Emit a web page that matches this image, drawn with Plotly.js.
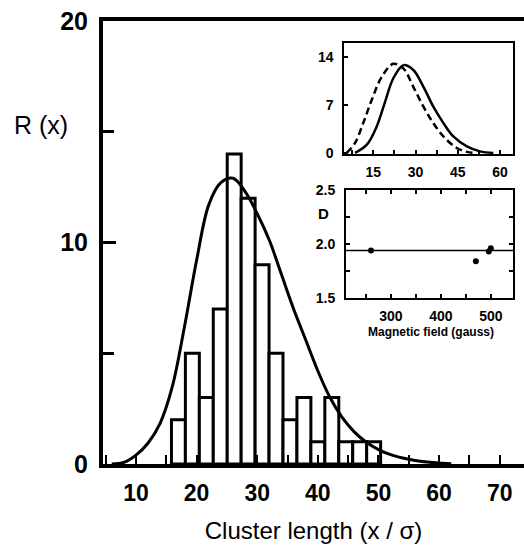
<!DOCTYPE html>
<html>
<head>
<meta charset="utf-8">
<script src="https://cdn.plot.ly/plotly-3.0.1.min.js"></script>
<style>html,body{margin:0;padding:0;background:#fff;}</style>
</head>
<body>
<div id="chart" style="width:524px;height:550px;"></div>
<script>
// Histogram of cluster lengths
const binCenters = [17.0, 19.3, 21.6, 23.9, 26.2, 28.5, 30.8, 33.1, 35.4, 37.7, 40.0, 42.3, 44.6, 46.9, 49.2];
const binCounts  = [2, 5, 3, 7, 14, 12, 9, 5, 2, 3, 1, 3, 1, 1, 1];
const binWidth = 2.3;

// Fitted distribution R(x)
const fitX = [6, 8, 10, 12, 14, 16, 18, 20, 22, 24, 26, 28, 30, 32, 34, 36, 38, 40, 42, 44, 46, 48, 50, 52, 54, 56, 58, 60, 62];
const fitY = [0, 0.07, 0.4, 0.95, 1.85, 3.5, 6.2, 9.2, 11.7, 12.7, 12.9, 12.3, 11.3, 10.1, 8.55, 7.0, 5.6, 4.2, 3.0, 2.1, 1.45, 0.98, 0.65, 0.42, 0.27, 0.16, 0.09, 0.04, 0.01];

// Inset 1: two distributions
const inSolidX = [8.5, 12.7, 16.2, 19.2, 22.1, 25.7, 29.2, 32.8, 36.3, 39.9, 43.4, 48.2, 52.9, 57.6];
const inSolidY = [0, 1.2, 3.86, 7.5, 10.9, 12.8, 12.1, 9.65, 6.75, 4.35, 2.4, 0.96, 0.23, 0];
const inDashX = [5.55, 8.5, 11.4, 14.4, 18.0, 22.1, 25.7, 29.2, 32.8, 36.3, 39.9, 44.6, 48.2, 50.5];
const inDashY = [0, 1.45, 4.35, 7.7, 11.1, 13.0, 12.3, 9.65, 6.75, 4.35, 2.4, 0.72, 0.15, 0];

// Inset 2: D vs magnetic field
const fieldX = [260, 470, 496, 500];
const dY = [1.94, 1.84, 1.93, 1.96];
const dMean = 1.94;
const fieldSpan = [210, 545];

const bold = {family: 'Liberation Sans, Arial, sans-serif', color: '#000', weight: 'bold'};

const traces = [
  {type: 'bar', x: binCenters, y: binCounts, width: binWidth,
   marker: {color: '#fff', line: {color: '#000', width: 3}}, xaxis: 'x', yaxis: 'y', hoverinfo: 'skip'},
  {type: 'scatter', mode: 'lines', x: fitX, y: fitY, line: {color: '#000', width: 3, shape: 'spline'},
   xaxis: 'x', yaxis: 'y'},
  {type: 'scatter', mode: 'lines', x: inSolidX, y: inSolidY, line: {color: '#000', width: 2.5, shape: 'spline'},
   xaxis: 'x2', yaxis: 'y2'},
  {type: 'scatter', mode: 'lines', x: inDashX, y: inDashY, line: {color: '#000', width: 2.5, shape: 'spline', dash: '7px,4px'},
   xaxis: 'x2', yaxis: 'y2'},
  {type: 'scatter', mode: 'lines', x: fieldSpan, y: fieldSpan.map(() => dMean), line: {color: '#000', width: 1.5},
   xaxis: 'x3', yaxis: 'y3'},
  {type: 'scatter', mode: 'markers', x: fieldX, y: dY, marker: {color: '#000', size: 6},
   xaxis: 'x3', yaxis: 'y3'}
];

const layout = {
  width: 524, height: 550,
  margin: {l: 103, r: 0, t: 21, b: 86},
  paper_bgcolor: '#fff', plot_bgcolor: '#fff',
  showlegend: false, bargap: 0,
  xaxis: {
    domain: [0, 1], range: [4.56, 74.0], showgrid: false, zeroline: false,
    showline: true, linewidth: 4, linecolor: '#000', mirror: true,
    ticks: 'inside', ticklen: 9, tickwidth: 2, tickcolor: '#000',
    tick0: 0, dtick: 10,
    minor: {dtick: 5, tick0: 0, ticks: 'inside', ticklen: 9, tickwidth: 2, tickcolor: '#000'},
    tickfont: Object.assign({}, bold, {size: 23}),
    ticklabelstandoff: 5,
    title: {text: 'Cluster length (x / σ)', font: {family: 'Liberation Sans, Arial, sans-serif', size: 24, color: '#000'}, standoff: 19}
  },
  yaxis: {
    domain: [0, 1], range: [0, 20], showgrid: false, zeroline: false,
    showline: true, linewidth: 4, linecolor: '#000', mirror: false,
    ticks: 'inside', ticklen: 13, tickwidth: 3, tickcolor: '#000',
    tick0: 0, dtick: 10,
    minor: {dtick: 5, tick0: 0, ticks: 'inside', ticklen: 11, tickwidth: 3, tickcolor: '#000'},
    tickfont: Object.assign({}, bold, {size: 25}),
    ticklabelstandoff: 6
  },
  xaxis2: {
    anchor: 'y2', domain: [0.5732, 0.9746], range: [4.7, 64.7], showgrid: false, zeroline: false,
    showline: true, linewidth: 2, linecolor: '#000', mirror: true,
    ticks: 'inside', ticklen: 4, tickwidth: 2, tickcolor: '#000',
    tick0: 0, dtick: 15,
    minor: {dtick: 7.5, tick0: 0, ticks: 'inside', ticklen: 4, tickwidth: 2, tickcolor: '#000'},
    tickfont: Object.assign({}, bold, {size: 14}), ticklabelstandoff: 4
  },
  yaxis2: {
    anchor: 'x2', domain: [0.6991, 0.9497], range: [-0.2, 16], showgrid: false, zeroline: false,
    showline: true, linewidth: 2, linecolor: '#000', mirror: true,
    ticks: 'inside', ticklen: 4, tickwidth: 2, tickcolor: '#000',
    tickvals: [0, 7, 14], ticktext: ['0', '7', '14'],
    tickfont: Object.assign({}, bold, {size: 14}), ticklabelstandoff: 6
  },
  xaxis3: {
    anchor: 'y3', domain: [0.5772, 0.9746], range: [210, 545], showgrid: false, zeroline: false,
    showline: true, linewidth: 2, linecolor: '#000', mirror: 'ticks',
    ticks: 'inside', ticklen: 4, tickwidth: 2, tickcolor: '#000',
    tick0: 0, dtick: 100,
    minor: {dtick: 50, tick0: 0, ticks: 'inside', ticklen: 4, tickwidth: 2, tickcolor: '#000'},
    tickfont: Object.assign({}, bold, {size: 14}), ticklabelstandoff: 4
  },
  yaxis3: {
    anchor: 'x3', domain: [0.3747, 0.6185], range: [1.5, 2.5], showgrid: false, zeroline: false,
    showline: true, linewidth: 2, linecolor: '#000', mirror: 'ticks',
    ticks: 'inside', ticklen: 4, tickwidth: 2, tickcolor: '#000',
    tickvals: [1.5, 2.0, 2.5], ticktext: ['1.5', '2.0', '2.5'],
    minor: {tickvals: [1.75, 2.25], ticks: 'inside', ticklen: 4, tickwidth: 2, tickcolor: '#000'},
    tickfont: Object.assign({}, bold, {size: 14}), ticklabelstandoff: 6
  },
  annotations: [
    {text: 'R (x)', xref: 'paper', yref: 'paper', x: -0.147, y: 0.765, xanchor: 'center', yanchor: 'middle',
     showarrow: false, font: {family: 'Liberation Sans, Arial, sans-serif', size: 25, color: '#000'}},
    {text: 'D', xref: 'paper', yref: 'paper', x: (323 - 103) / 421, y: (464 - 213) / 443, xanchor: 'center', yanchor: 'middle',
     showarrow: false, font: Object.assign({}, bold, {size: 15})},
    {text: 'Magnetic field (gauss)', xref: 'paper', yref: 'paper', x: (431 - 103) / 421, y: (464 - 332) / 443,
     xanchor: 'center', yanchor: 'middle', showarrow: false, font: Object.assign({}, bold, {size: 12})}
  ]
};

Plotly.newPlot('chart', traces, layout, {displayModeBar: false, staticPlot: true});
</script>
</body>
</html>
